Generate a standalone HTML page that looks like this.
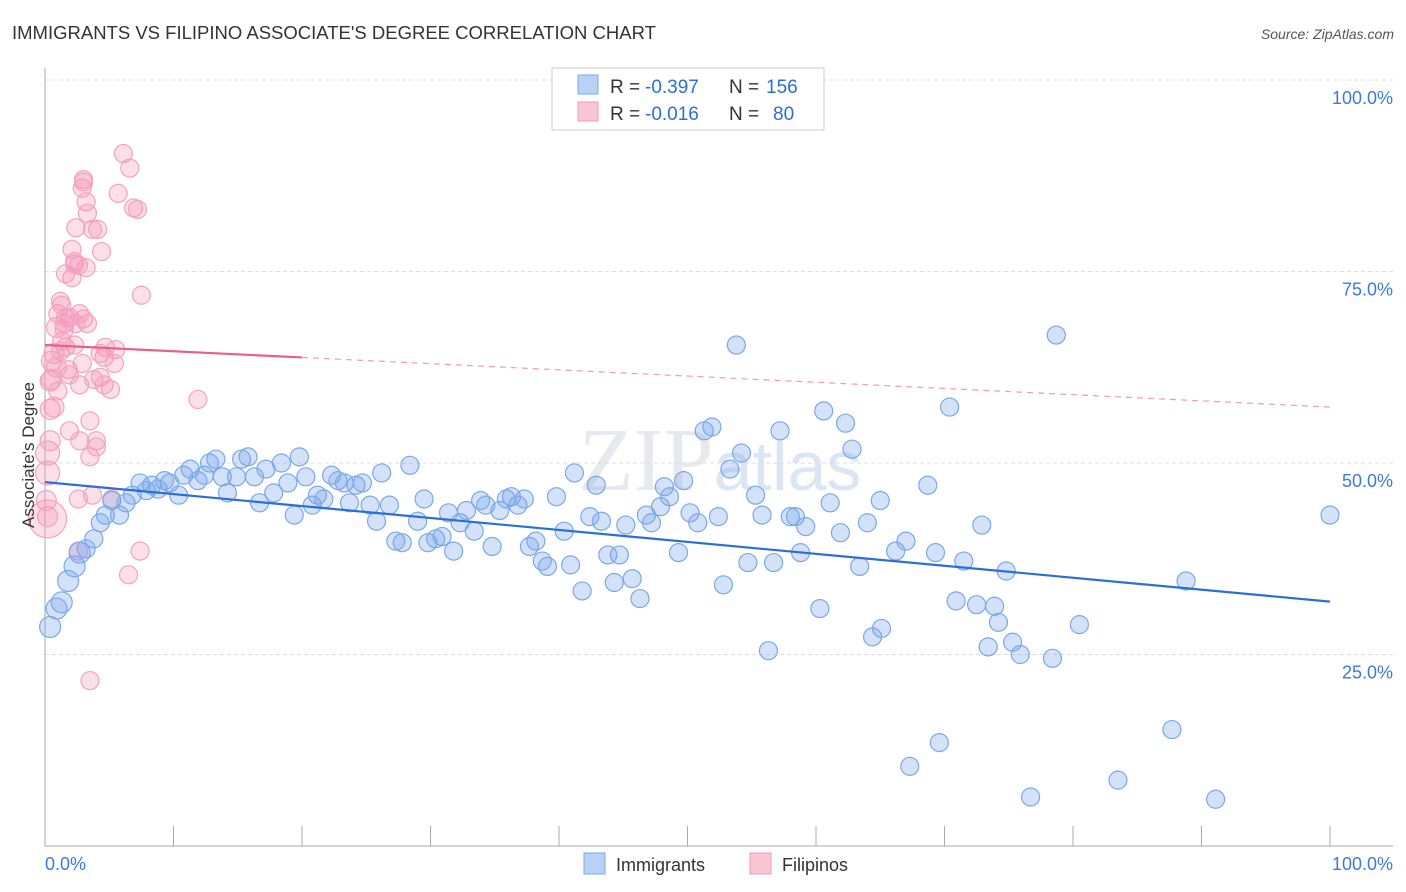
<!DOCTYPE html>
<html><head><meta charset="utf-8"><style>
body{margin:0;background:#fff;font-family:"Liberation Sans",sans-serif;}
svg{display:block}
</style></head><body>
<svg id="chart" width="1406" height="892" xmlns="http://www.w3.org/2000/svg">
<text x="12" y="39" font-size="18.5" fill="#333">IMMIGRANTS VS FILIPINO ASSOCIATE'S DEGREE CORRELATION CHART</text>
<text x="1394" y="39" font-size="14" fill="#555" font-style="italic" text-anchor="end">Source: ZipAtlas.com</text>
<text x="720" y="490" font-size="90" fill="#e6e9ee" text-anchor="middle" font-family="Liberation Serif">ZIP<tspan font-family="Liberation Sans" font-size="70" fill="#dbe6f4">atlas</tspan></text>
<g id="grid"></g>
<g id="axes"></g>
<g id="points"></g>
<g id="trend"></g>
<text transform="translate(34,455) rotate(-90)" font-size="17" fill="#333" text-anchor="middle">Associate's Degree</text>
<g>
<rect x="552" y="68" width="272" height="62" fill="#fff" stroke="#ccc"/>
<rect x="578" y="75" width="20" height="19" fill="#b7d2f5" stroke="#7aa8e8"/>
<rect x="578" y="102" width="20" height="19" fill="#f9c6d6" stroke="#f09ab8"/>
<text x="610" y="93" font-size="19" fill="#333">R =</text>
<text x="645" y="93" font-size="19" fill="#2b6fd6">-0.397</text>
<text x="729" y="93" font-size="19" fill="#333">N =</text>
<text x="766" y="93" font-size="19" fill="#2b6fd6">156</text>
<text x="610" y="120" font-size="19" fill="#333">R =</text>
<text x="645" y="120" font-size="19" fill="#2b6fd6">-0.016</text>
<text x="729" y="120" font-size="19" fill="#333">N =</text>
<text x="773" y="120" font-size="19" fill="#2b6fd6">80</text>
</g>
<g>
<rect x="584" y="853" width="21" height="21" fill="#b7d2f5" stroke="#7aa8e8"/>
<text x="616" y="871" font-size="18" fill="#333">Immigrants</text>
<rect x="750" y="853" width="21" height="21" fill="#f9c6d6" stroke="#f09ab8"/>
<text x="782" y="871" font-size="18" fill="#333">Filipinos</text>
</g>
</svg>
<script>
const blueX=[0.4,0.9,1.3,1.8,2.3,2.7,3.2,3.8,4.3,4.7,5.2,5.8,6.3,6.8,7.4,7.9,8.3,8.8,9.3,9.7,10.4,10.8,11.3,11.9,12.4,12.8,13.3,13.8,14.2,14.9,15.3,15.8,16.3,16.7,17.2,17.8,18.4,18.9,19.4,19.8,20.3,20.8,21.2,21.7,22.3,22.8,23.3,23.7,24.2,24.7,25.3,25.8,26.2,26.8,27.3,27.8,28.4,29.0,29.5,29.8,30.4,30.9,31.4,31.8,32.3,32.8,33.4,33.9,34.3,34.8,35.4,35.9,36.3,36.8,37.3,37.7,38.2,38.7,39.1,39.8,40.4,40.9,41.2,41.8,42.4,42.9,43.3,43.8,44.3,44.7,45.2,45.7,46.3,46.8,47.2,47.9,48.2,48.6,49.3,49.7,50.2,50.8,51.3,51.9,52.4,52.8,53.3,53.8,54.2,54.7,55.3,55.8,56.3,56.7,57.2,58.0,58.4,58.8,59.2,60.3,60.6,61.1,61.9,62.3,62.8,63.4,64.0,64.4,65.1,65.0,66.2,67.0,67.3,68.7,69.3,69.6,70.4,70.9,71.5,72.5,72.9,73.4,73.9,74.2,74.8,75.3,75.9,76.7,78.4,78.7,80.5,83.5,87.7,88.8,91.1,100];
const blueY=[28.6,31.0,31.8,34.6,36.5,38.3,38.8,40.1,42.2,43.2,45.1,43.2,44.8,45.8,47.4,46.4,47.1,46.6,47.7,47.4,45.8,48.4,49.2,47.7,48.4,50.0,50.5,48.2,46.1,48.2,50.5,50.8,48.2,44.8,49.2,46.1,50.0,47.4,43.2,50.8,48.2,44.5,45.8,45.3,48.4,47.7,47.4,44.8,47.1,47.4,44.5,42.4,48.7,44.5,39.8,39.6,49.7,42.4,45.3,39.6,40.1,40.4,43.5,38.5,42.2,43.8,41.1,45.1,44.5,39.1,43.8,45.3,45.6,44.5,45.3,39.1,39.8,37.2,36.5,45.6,41.1,36.7,48.7,33.3,43.0,47.1,42.4,38.0,34.4,38.0,41.9,34.9,32.3,43.2,42.2,44.3,46.9,45.6,38.3,47.7,43.5,42.2,54.2,54.7,43.0,34.1,49.2,65.4,51.3,37.0,45.8,43.2,25.5,37.0,54.2,43.0,43.0,38.3,41.7,31.0,56.8,44.8,40.9,55.2,51.8,36.5,42.2,27.3,28.4,45.1,38.5,39.8,10.4,47.1,38.3,13.5,57.3,32.0,37.2,31.5,41.9,26.0,31.3,29.2,35.9,26.6,25.0,6.4,24.5,66.7,28.9,8.6,15.2,34.6,6.1,43.2];
const pinkX=[0.2,0.2,0.2,0.4,0.4,0.4,0.5,0.7,0.9,1.0,1.2,1.3,1.5,1.6,1.8,1.9,2.1,2.1,2.3,2.4,2.6,2.6,2.7,2.9,3.0,3.2,3.3,3.5,3.7,3.8,4.0,4.1,4.3,4.4,4.6,4.7,5.1,5.2,5.4,5.5,5.7,6.1,6.5,6.6,6.9,7.2,7.4,7.5,11.9,3.5,1.3,1.6,1.9,2.3,2.6,2.7,3.0,3.3,3.7,4.0,4.3,4.6,1.9,1.0,0.7,1.2,1.5,2.4,2.9,3.2,3.5,0.5,0.9,1.6,2.3,2.7,3.0,0.2,0.1];
const pinkY=[42.7,48.7,51.3,52.9,57.0,60.7,63.3,64.3,67.7,69.5,71.1,70.6,68.2,65.1,62.2,54.2,74.2,77.9,76.0,80.7,45.3,38.5,52.9,85.9,87.0,84.1,82.6,50.8,45.8,60.9,52.9,80.5,61.2,77.6,63.8,65.1,59.6,45.3,63.0,64.8,85.2,90.4,35.4,88.5,83.3,83.1,38.5,71.9,58.3,21.6,65.9,74.7,69.0,65.4,75.8,60.2,68.8,68.2,80.5,52.1,64.3,60.2,61.5,59.4,57.3,64.6,67.4,68.2,63.0,75.5,55.5,60.9,62.5,69.0,76.3,69.5,86.7,43.0,45.1];
const yTicks=[25,50,75,100];
const yTickLabels=["25.0%","50.0%","75.0%","100.0%"];
const xTicks=[0,10,20,30,40,50,60,70,80,90,100];
const blueTrend=[47.5,31.9];
const pinkTrend=[65.4,57.3];
const pinkSolidEnd=20;

const NS="http://www.w3.org/2000/svg";
const X0=45,X1=1330,Y0=846,Y1=80;
const sx=v=>X0+(X1-X0)*v/100;
const sy=v=>Y0-(Y0-Y1)*v/100;
function mk(tag,attrs,parent){const e=document.createElementNS(NS,tag);for(const k in attrs)e.setAttribute(k,attrs[k]);parent.appendChild(e);return e;}
const grid=document.getElementById('grid'),axes=document.getElementById('axes'),pts=document.getElementById('points'),tr=document.getElementById('trend');
yTicks.forEach((t,i)=>{
  const l=mk('line',{x1:X0,x2:1393,y1:sy(t),y2:sy(t),stroke:'#ddd','stroke-dasharray':'4,3'},grid);
  
  
  const tx=mk('text',{x:1393,y:sy(t)+24,'font-size':18,fill:'#3d7ad8','text-anchor':'end'},grid);
  tx.textContent=yTickLabels[i];
  
  
});
const ax=mk('line',{x1:X0,x2:X0,y1:68,y2:Y0,stroke:'#aaa'},axes);


const bx=mk('line',{x1:X0,x2:1393,y1:Y0,y2:Y0,stroke:'#aaa'},axes);


xTicks.forEach(t=>{
  const l=mk('line',{x1:sx(t),x2:sx(t),y1:826,y2:Y0,stroke:'#aaa'},axes);
  
  
});
const xl0=mk('text',{x:45,y:870,'font-size':18,fill:'#3d7ad8'},axes);xl0.textContent='0.0%';


const xl1=mk('text',{x:1393,y:870,'font-size':18,fill:'#3d7ad8','text-anchor':'end'},axes);xl1.textContent='100.0%';



pinkX.forEach((x,i)=>{
  const r=i===0?19:(i<3?12:(x<1?10:9));
  const c=mk('circle',{cx:sx(x),cy:sy(pinkY[i]),r:r,fill:'rgba(244,150,182,0.3)',stroke:'#f2a3bf','stroke-width':1.2},pts);
  
  
});
blueX.forEach((x,i)=>{
  const r=x<3?10.5:9;
  const c=mk('circle',{cx:sx(x),cy:sy(blueY[i]),r:r,fill:'rgba(120,165,235,0.32)',stroke:'#7aa8e8','stroke-width':1.2},pts);
  
  
});
const bl=mk('line',{x1:sx(0),y1:sy(blueTrend[0]),x2:sx(100),y2:sy(blueTrend[1]),stroke:'#2b6fd6','stroke-width':2.2},tr);


const pAt=x=>pinkTrend[0]+(pinkTrend[1]-pinkTrend[0])*x/100;
const pl=mk('line',{x1:sx(0),y1:sy(pAt(0)),x2:sx(pinkSolidEnd),y2:sy(pAt(pinkSolidEnd)),stroke:'#e8608a','stroke-width':2.2},tr);


const pd=mk('line',{x1:sx(pinkSolidEnd),y1:sy(pAt(pinkSolidEnd)),x2:sx(100),y2:sy(pAt(100)),stroke:'#f09ab8','stroke-width':1.2,'stroke-dasharray':'6,5'},tr);


</script>
</body></html>
